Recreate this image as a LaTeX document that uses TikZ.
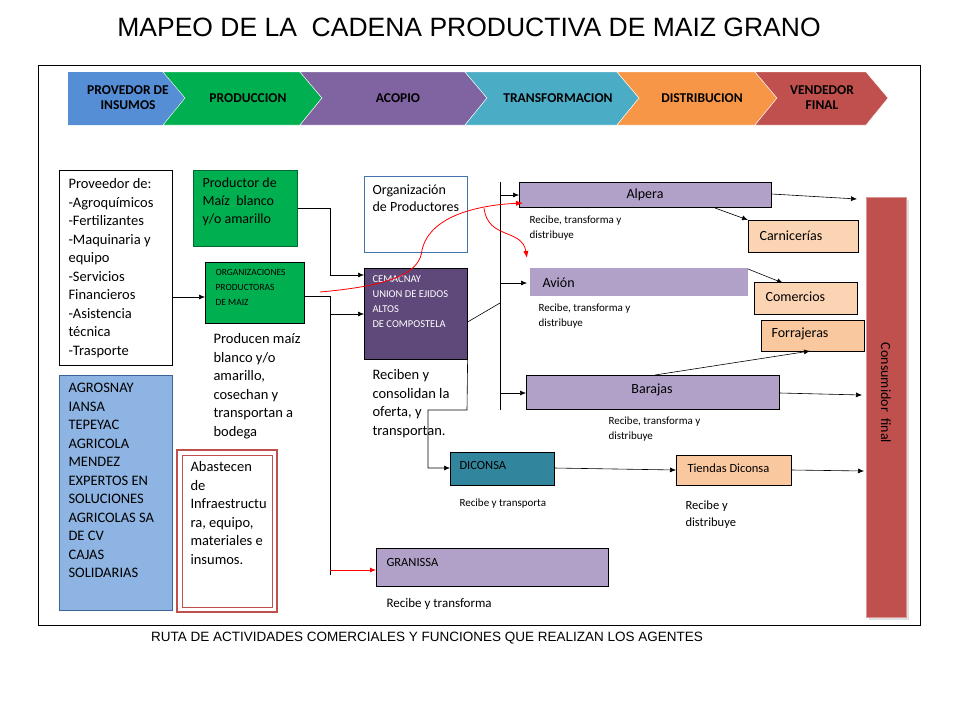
\documentclass[tikz,border=0pt]{standalone}
\usepackage{fontspec}
\setmainfont{Carlito}
\newfontfamily\arialfont{Liberation Sans}
\usetikzlibrary{arrows.meta,shadows}
\definecolor{cGreen}{HTML}{00B050}
\definecolor{cBlue}{HTML}{558ED5}
\definecolor{cPurple}{HTML}{8064A2}
\definecolor{cTeal}{HTML}{4BACC6}
\definecolor{cOrange}{HTML}{F79646}
\definecolor{cRed}{HTML}{C0504D}
\definecolor{cLila}{HTML}{B1A0C7}
\definecolor{cPeach}{HTML}{FBD4B4}
\definecolor{cDark}{HTML}{5F497A}
\definecolor{cDic}{HTML}{31859C}
\definecolor{cAgro}{HTML}{8DB4E2}
\begin{document}
\begin{tikzpicture}
[x=1pt,y=-1pt,
  lineDecorate/.style={-{Latex[length=6pt,width=5pt]},semithick},
  boxDecorate/.style={draw,semithick,anchor=north west,inner sep=0pt},
  textDecorate/.style={anchor=north west,align=left,font=\fontsize{14.5}{18.5}\selectfont},
  smallDecorate/.style={anchor=north west,align=left,font=\fontsize{11}{15}\selectfont},
  labelDecorate/.style={font=\fontsize{14}{16}\selectfont}]
\useasboundingbox (0,0) rectangle (960,720);
%% title and frame
\node[font=\arialfont\fontsize{26.5}{30}\selectfont] (title) at (469,27) {MAPEO DE LA\ \ CADENA PRODUCTIVA DE MAIZ GRANO};
\draw (38,65) rectangle (920,625);
\node[font=\arialfont\fontsize{13.5}{15}\selectfont] (caption) at (427,638) {RUTA DE ACTIVIDADES COMERCIALES Y FUNCIONES QUE REALIZAN LOS AGENTES};
%% chevrons
\fill[cBlue] (68,72) -- (163,72) -- (185,98) -- (163,125) -- (68,125) -- cycle;
\foreach \a/\b/\c in {163/300/cGreen, 300/465/cPurple, 465/617/cTeal, 617/755/cOrange, 755/866/cRed}
{
  \fill[\c,draw=white] (\a,72) -- (\b,72) -- (\b+22,98) -- (\b,125) -- (\a,125) -- (\a+22,98) -- cycle;
}
\foreach \name/\x/\txt in {s1/128/{PROVEDOR DE\\INSUMOS}, s2/248/PRODUCCION, s3/398/ACOPIO,
  s4/558/TRANSFORMACION, s5/702/DISTRIBUCION, s6/822/{VENDEDOR\\FINAL}}
{
  \node[align=center,font=\bfseries\fontsize{13.5}{15}\selectfont] (\name) at (\x,98) {\txt};
}
%% boxes
\node[boxDecorate,minimum width=113pt,minimum height=195pt] (prov) at (59,170) {};
\node[textDecorate] at (65,175) {Proveedor de:\\-Agroqu\'imicos\\-Fertilizantes\\-Maquinaria y\\equipo\\-Servicios\\Financieros\\-Asistencia\\t\'ecnica\\-Trasporte};
\node[boxDecorate,fill=cAgro,draw=cBlue!70!black,minimum width=113pt,minimum height=235pt] (agro) at (59,375) {};
\node[textDecorate] at (65,380) {AGROSNAY\\IANSA\\TEPEYAC\\AGRICOLA\\MENDEZ\\EXPERTOS EN\\SOLUCIONES\\AGRICOLAS SA\\DE CV\\CAJAS\\SOLIDARIAS};
\draw[cRed,line width=2.5pt] (177,450) rectangle (277,612);
\draw[cRed,line width=0.9pt] (182,455) rectangle (272,607);
\node[textDecorate] (abas) at (187,458) {Abastecen\\de\\Infraestructu\\ra, equipo,\\materiales e\\insumos.};
\node[boxDecorate,fill=cGreen,draw=cGreen!60!black,minimum width=104pt,minimum height=76pt] (prod) at (193,170) {};
\node[textDecorate,font=\fontsize{14}{18}\selectfont] at (199,174) {Productor de\\Ma\'iz\ \ blanco\\y/o amarillo};
\node[boxDecorate,fill=cGreen,minimum width=99pt,minimum height=61pt] (org) at (205,262) {};
\node[smallDecorate,font=\fontsize{9.5}{15}\selectfont] at (212,266) {ORGANIZACIONES\\PRODUCTORAS\\DE MAIZ};
\node[textDecorate] at (210,330) {Producen ma\'iz\\blanco y/o\\amarillo,\\cosechan y\\transportan a\\bodega};
\node[boxDecorate,draw=cBlue!80!black,minimum width=103pt,minimum height=76pt] (orgp) at (364,176) {};
\node[textDecorate,font=\fontsize{14}{17}\selectfont] at (369,181) {Organizaci\'on\\de Productores};
\node[boxDecorate,fill=cDark,minimum width=103pt,minimum height=91pt] (cema) at (364,268) {};
\node[smallDecorate,text=white,font=\fontsize{10.5}{15}\selectfont] at (369,272) {CEMACNAY\\UNION DE EJIDOS\\ALTOS\\DE COMPOSTELA};
\node[textDecorate] at (369,366) {Reciben y\\consolidan la\\oferta, y\\transportan.};
\node[boxDecorate,fill=cLila,minimum width=252pt,minimum height=25pt] (alpera) at (519,182) {};
\node[labelDecorate] at (645,195) {Alpera};
\node[smallDecorate] at (526,212) {Recibe, transforma y\\distribuye};
\node[boxDecorate,draw=none,fill=cLila,minimum width=218pt,minimum height=28pt] (avion) at (530,268) {};
\node[labelDecorate,anchor=west] at (539,283) {Avi\'on};
\node[smallDecorate] at (535,300) {Recibe, transforma y\\distribuye};
\node[boxDecorate,fill=cLila,minimum width=253pt,minimum height=34pt] (baraj) at (526,375) {};
\node[labelDecorate] at (652,390) {Barajas};
\node[smallDecorate] at (605,413) {Recibe, transforma y\\distribuye};
\node[boxDecorate,fill=cPeach,minimum width=110pt,minimum height=32pt] (carn) at (748,220) {};
\node[labelDecorate,anchor=west] at (756,236) {Carnicer\'ias};
\node[boxDecorate,fill=cPeach,minimum width=103pt,minimum height=32pt] (come) at (754,282) {};
\node[labelDecorate,anchor=west] at (762,297) {Comercios};
\node[boxDecorate,fill=cPeach!80!cOrange,minimum width=103pt,minimum height=31pt] (forr) at (761,320) {};
\node[labelDecorate,anchor=west] at (768,334) {Forrajeras};
\node[boxDecorate,fill=cDic,minimum width=104pt,minimum height=33pt] (dic) at (450,452) {};
\node[anchor=west,font=\fontsize{12.5}{14}\selectfont] at (456,465) {DICONSA};
\node[smallDecorate] at (456,495) {Recibe y transporta};
\node[boxDecorate,fill=cPeach!80!cOrange,minimum width=115pt,minimum height=30pt] (tien) at (676,455) {};
\node[anchor=west,font=\fontsize{12.5}{14}\selectfont] at (684,468) {Tiendas Diconsa};
\node[smallDecorate,font=\fontsize{12.5}{17}\selectfont] at (682,497) {Recibe y\\distribuye};
\node[boxDecorate,fill=cLila,minimum width=232pt,minimum height=38pt] (gran) at (376,548) {};
\node[anchor=west,font=\fontsize{12.5}{14}\selectfont] at (383,562) {GRANISSA};
\node[anchor=west,font=\fontsize{13}{15}\selectfont] at (383,604) {Recibe y transforma};
\node[boxDecorate,fill=cRed,draw=cRed!60,line width=1pt,drop shadow={opacity=0.25},minimum width=40pt,minimum height=420pt] (cons) at (866,197) {};
\node[rotate=-90,labelDecorate] at (886,393) {Consumidor\ \ final};
%% connectors
\coordinate (v1) at (330,296);
\coordinate (v2) at (330,575);
\coordinate (b1) at (500,182);
\coordinate (b2) at (500,410);
\draw[lineDecorate] (prov.east |- 0,297) -- (org.west |- 0,297);
\draw[lineDecorate] (prod.east |- 0,208) -- (330,208) -- (330,275) -- (cema.west |- 0,275);
\draw[semithick] (org.east |- v1) -- (v1) -- (v2);
\draw[lineDecorate] (330,314) -- (cema.west |- 0,314);
\draw[lineDecorate,red,thick] (330,570) -- (gran.west |- 0,570);
\draw[semithick] (b1) -- (b2);
\draw[semithick] (cema.east |- 0,322) -- (500,303);
\draw[lineDecorate] (500,195) -- (alpera.west |- 0,195);
\draw[lineDecorate] (500,283) -- (527,283);
\draw[lineDecorate] (500,393) -- (baraj.west |- 0,393);
\draw[lineDecorate] (cema.south east) -- (467,410) -- (428,410) -- (428,468) -- (dic.west |- 0,468);
\draw[lineDecorate] (dic.east |- 0,468) -- (tien.west |- 0,470);
\draw[lineDecorate] (tien.east |- 0,470) -- (864,471);
\draw[lineDecorate] (alpera.east |- 0,194) -- (857,199);
\draw[lineDecorate] (715,208) -- (carn.north west);
\draw[lineDecorate] (748,269) -- (783,283);
\draw[lineDecorate] (655,375) -- (810,351);
\draw[lineDecorate] (baraj.east |- 0,393) -- (862,395);
\draw[-{Latex[length=7pt]},red,thick] (320,292) .. controls (400,285) and (420,270) .. (422,250)
  .. controls (430,215) and (480,205) .. (523,203);
\draw[-{Latex[length=7pt]},red,thick] (484,208) .. controls (488,240) and (522,228) .. (527,258);
\end{tikzpicture}
\end{document}
